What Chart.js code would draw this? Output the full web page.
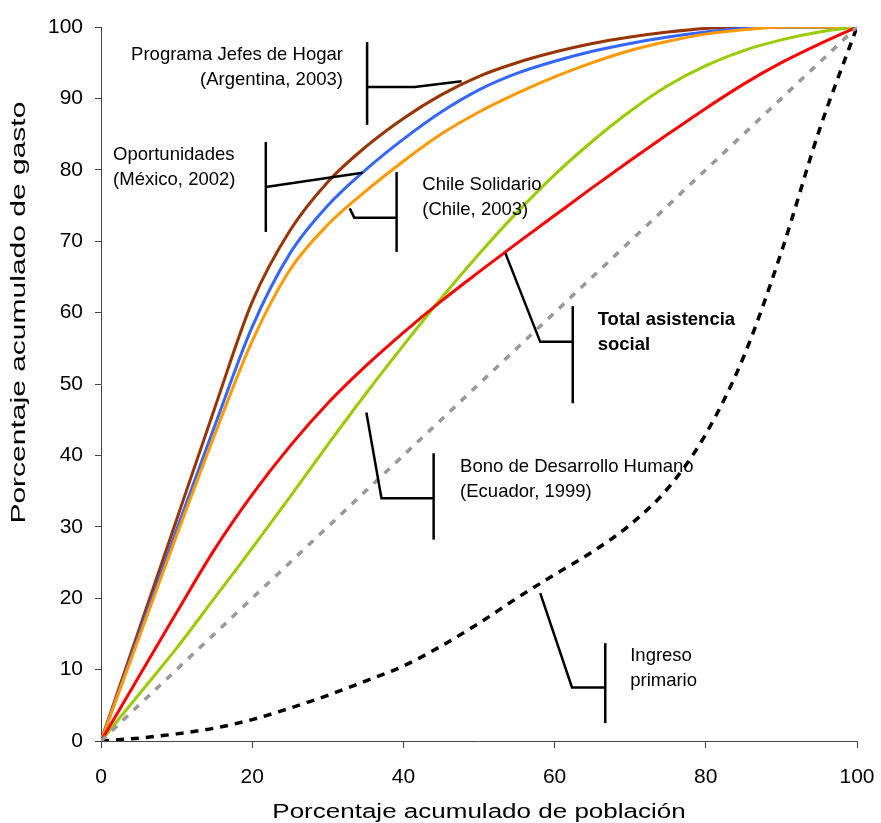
<!DOCTYPE html>
<html>
<head>
<meta charset="utf-8">
<script src="https://cdn.jsdelivr.net/npm/chart.js@4/dist/chart.umd.min.js"></script>
<style>
  body { margin: 0; background: #fff; }
  #wrap { width: 881px; height: 823px; }
</style>
</head>
<body>
<div id="wrap"><canvas id="myChart" width="881" height="823"></canvas></div>
<script>
// cumulative population share (x) shared by every curve
const poblacion = [0, 5, 10, 15, 20, 25, 30, 35, 40, 45, 50, 55, 60, 65, 70, 75, 80, 85, 90, 95, 100];

// cumulative spending share for each programme
const jefesHogar = [0, 15.5, 31, 46.5, 61.5, 71.5, 78.3, 83.2, 87.2, 90.5, 93.1, 95, 96.5, 97.7, 98.6, 99.3, 99.8, 100, 100, 100, 100];
const oportunidades = [0, 14.8, 29.6, 44, 58, 68.3, 75, 80, 84.3, 88.1, 91.2, 93.5, 95.2, 96.6, 97.7, 98.6, 99.3, 99.8, 100, 100, 100];
const chileSolidario = [0, 14.4, 28.8, 42.8, 56, 66, 72.3, 77, 81.2, 85, 88.1, 90.7, 93, 95, 96.7, 98, 99, 99.6, 100, 100, 100];
const bonoDesarrollo = [0, 6.5, 13, 20, 27, 34.2, 41.5, 48.6, 55.4, 62, 68.2, 74, 79.3, 84, 88.2, 91.8, 94.6, 96.7, 98.2, 99.3, 100];
const totalAsistencia = [0, 9, 18, 26.8, 34.5, 41.3, 47.3, 52.5, 57.2, 61.6, 65.7, 69.7, 73.6, 77.5, 81.3, 85, 88.6, 92, 95, 97.6, 100];
const igualdad = [0, 5, 10, 15, 20, 25, 30, 35, 40, 45, 50, 55, 60, 65, 70, 75, 80, 85, 90, 95, 100];
const ingresoPrimario = [0, 0.4, 1, 1.8, 3, 4.6, 6.4, 8.4, 10.5, 13.3, 16.5, 20, 23.3, 26.5, 30.3, 35.4, 43, 53.8, 68.5, 85.5, 100];

// callout labels (positions in data units)
const callouts = [
  { lines: ['Programa Jefes de Hogar', '(Argentina, 2003)'], x: 32.0, y: 96.1, align: 'right', bold: false,
    bar: [35.2, 97.9, 86.3], path: [[35.2, 91.6], [41.5, 91.6], [47.7, 92.4]] },
  { lines: ['Oportunidades', '(México, 2002)'], x: 1.6, y: 82.1, align: 'left', bold: false,
    bar: [21.8, 83.9, 71.3], path: [[21.8, 77.6], [34.6, 79.6]] },
  { lines: ['Chile Solidario', '(Chile, 2003)'], x: 42.5, y: 77.9, align: 'left', bold: false,
    bar: [39.1, 79.7, 68.5], path: [[39.1, 73.3], [33.5, 73.3], [32.9, 74.6]] },
  { lines: ['Total asistencia', 'social'], x: 65.7, y: 59.0, align: 'left', bold: true,
    bar: [62.4, 60.9, 47.3], path: [[62.4, 55.9], [58.1, 55.9], [53.5, 68.3]] },
  { lines: ['Bono de Desarrollo Humano', '(Ecuador, 1999)'], x: 47.5, y: 38.4, align: 'left', bold: false,
    bar: [44.0, 40.3, 28.2], path: [[44.0, 34.0], [37.1, 34.0], [35.1, 46.0]] },
  { lines: ['Ingreso', 'primario'], x: 70.0, y: 11.9, align: 'left', bold: false,
    bar: [66.7, 13.7, 2.5], path: [[66.7, 7.5], [62.3, 7.5], [58.1, 20.7]] }
];

const xTitle = 'Porcentaje acumulado de población';
const yTitle = 'Porcentaje acumulado de gasto';

const FONT = "'Liberation Sans', Arial, sans-serif";
Chart.defaults.font.family = FONT;
Chart.defaults.color = '#000';

function pts(ys) {
  return poblacion.map((x, i) => ({ x: x, y: ys[i] }));
}

function serie(label, ys, color, dash) {
  return {
    label: label,
    data: pts(ys),
    borderColor: color,
    borderWidth: dash ? 3.5 : 3,
    borderDash: dash || [],
    pointRadius: 0,
    fill: false,
    cubicInterpolationMode: 'monotone'
  };
}

// the original axis titles are stretched along their reading direction
function stretchedText(ctx, text, cx, cy, rot, stretch) {
  ctx.save();
  ctx.translate(cx, cy);
  ctx.rotate(rot);
  ctx.scale(stretch, 1);
  ctx.fillText(text, 0, 0);
  ctx.restore();
}

const calloutPlugin = {
  id: 'callouts',
  afterDatasetsDraw(chart) {
    const ctx = chart.ctx;
    const xs = chart.scales.x, ys = chart.scales.y;
    ctx.save();
    ctx.strokeStyle = '#000';
    ctx.lineWidth = 2.5;
    ctx.fillStyle = '#000';
    ctx.textBaseline = 'middle';
    callouts.forEach(c => {
      const bx = xs.getPixelForValue(c.bar[0]);
      ctx.beginPath();
      ctx.moveTo(bx, ys.getPixelForValue(c.bar[1]));
      ctx.lineTo(bx, ys.getPixelForValue(c.bar[2]));
      ctx.stroke();
      ctx.beginPath();
      c.path.forEach((p, i) => {
        const px = xs.getPixelForValue(p[0]), py = ys.getPixelForValue(p[1]);
        if (i === 0) ctx.moveTo(px, py); else ctx.lineTo(px, py);
      });
      ctx.stroke();
      ctx.font = (c.bold ? 'bold ' : '') + '18.5px ' + FONT;
      ctx.textAlign = c.align;
      const tx = xs.getPixelForValue(c.x);
      const ty = ys.getPixelForValue(c.y);
      c.lines.forEach((t, i) => ctx.fillText(t, tx, ty + i * 25));
    });

    // axis titles
    ctx.font = '20px ' + FONT;
    ctx.textAlign = 'center';
    stretchedText(ctx, xTitle, (xs.left + xs.right) / 2, 812, 0, 1.3);
    stretchedText(ctx, yTitle, 19, ys.getPixelForValue(60), -Math.PI / 2, 1.5);
    ctx.restore();
  }
};

const ctx = document.getElementById('myChart').getContext('2d');
const myChart = new Chart(ctx, {
  type: 'line',
  data: {
    datasets: [
      serie('Igualdad', igualdad, '#999999', [7, 8]),
      serie('Ingreso primario', ingresoPrimario, '#000000', [8, 7]),
      serie('Total asistencia social', totalAsistencia, '#FF0000'),
      serie('Bono de Desarrollo Humano', bonoDesarrollo, '#99CC00'),
      serie('Chile Solidario', chileSolidario, '#FF9900'),
      serie('Oportunidades', oportunidades, '#3366FF'),
      serie('Programa Jefes de Hogar', jefesHogar, '#993300')
    ]
  },
  options: {
    responsive: false,
    animation: false,
    layout: { padding: { left: 0, top: 27, right: 24, bottom: 0 } },
    plugins: { legend: { display: false }, tooltip: { enabled: false } },
    scales: {
      x: {
        type: 'linear',
        min: 0, max: 100,
        afterFit(scale) { scale.height = 82; scale.paddingLeft = 0; scale.paddingRight = 0; },
        ticks: { stepSize: 20, font: { size: 21 }, padding: 17, maxRotation: 0 },
        grid: { drawOnChartArea: false, tickLength: 7, color: '#444' },
        border: { color: '#444', width: 1 }
      },
      y: {
        min: 0, max: 100,
        afterFit(scale) { scale.width = 101; scale.paddingTop = 0; scale.paddingBottom = 0; },
        ticks: { stepSize: 10, font: { size: 21 }, padding: 12 },
        grid: { drawOnChartArea: false, tickLength: 6, color: '#444' },
        border: { color: '#444', width: 1 }
      }
    }
  },
  plugins: [calloutPlugin]
});
</script>
</body>
</html>
